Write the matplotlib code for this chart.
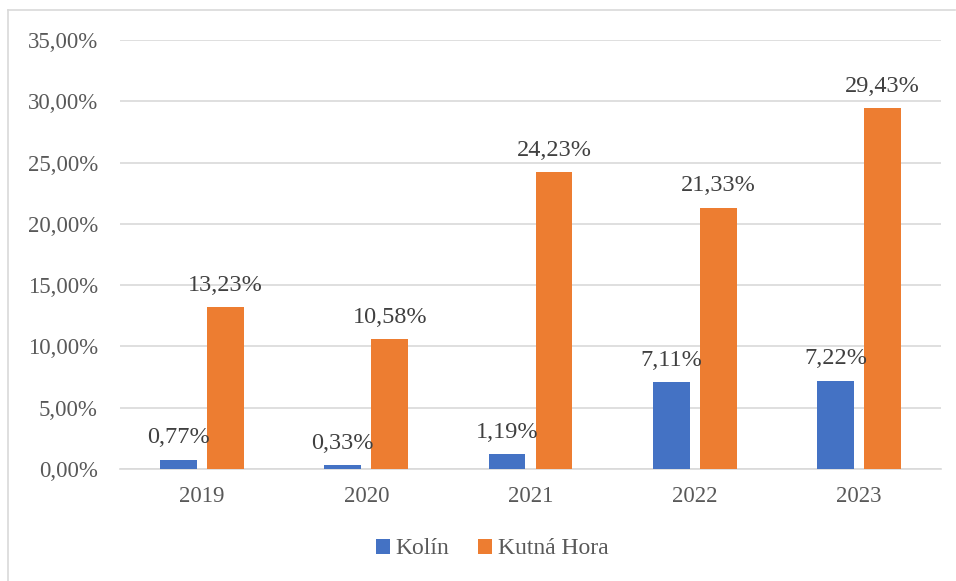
import matplotlib
matplotlib.use("Agg")
import matplotlib.pyplot as plt
import numpy as np
from matplotlib.lines import Line2D

years = ["2019", "2020", "2021", "2022", "2023"]
kolin = [0.77, 0.33, 1.19, 7.11, 7.22]
kutna = [13.23, 10.58, 24.23, 21.33, 29.43]
series_names = ["Kolín", "Kutná Hora"]
yticks = [0, 5, 10, 15, 20, 25, 30, 35]

plt.rcParams['font.family'] = ['Liberation Serif', 'DejaVu Serif']
txt = '#595959'

fig = plt.figure(figsize=(9.56, 5.81), dpi=100)
ax = fig.add_axes([120/956, 1-469/581, 821/956, 429/581])

x = np.arange(len(years))
w = 0.225
off = 0.143
b1 = ax.bar(x - off, kolin, w, color='#4472C4', label=series_names[0], zorder=3)
b2 = ax.bar(x + off, kutna, w, color='#ED7D31', label=series_names[1], zorder=3)

def fmt(v):
    return f"{v:.2f}".replace('.', ',') + '%'

for bars, vals in ((b1, kolin), (b2, kutna)):
    for r, v in zip(bars, vals):
        ax.annotate(fmt(v), (r.get_x() + r.get_width()/2, v), xytext=(0, 8),
                    textcoords='offset points', ha='center', va='bottom',
                    fontsize=17.5, color='#404040', zorder=4)

ax.set_xlim(-0.5, 4.5)
ax.set_ylim(0, 35)
ax.set_yticks(yticks)
ax.set_yticklabels([fmt(t) for t in yticks], fontsize=16.5, color=txt)
ax.set_xticks(x)
ax.set_xticklabels(years, fontsize=16.5, color=txt)
ax.tick_params(length=0)
ax.tick_params(axis='x', pad=12)
ax.tick_params(axis='y', pad=16)
ax.grid(axis='y', color='#D9D9D9', linewidth=1.2, zorder=0)
for s in ['top', 'right', 'left']:
    ax.spines[s].set_visible(False)
ax.spines['bottom'].set_color('#D9D9D9')
ax.spines['bottom'].set_linewidth(1.2)

leg = fig.legend(handles=[b1, b2], loc='center', bbox_to_anchor=(492/956, 1-549/581),
                 ncol=2, frameon=False, fontsize=17, handlelength=0.6, handleheight=0.6,
                 handletextpad=0.25, columnspacing=1.2)
for t in leg.get_texts():
    t.set_color(txt)

# outer chart border (left and top visible)
fig.add_artist(Line2D([8/956, 8/956], [0, 1-10/581], transform=fig.transFigure,
                      color='#D9D9D9', linewidth=1.2))
fig.add_artist(Line2D([8/956, 955/956], [1-10/581, 1-10/581], transform=fig.transFigure,
                      color='#D9D9D9', linewidth=1.2))

fig.savefig('out.png', dpi=100)
